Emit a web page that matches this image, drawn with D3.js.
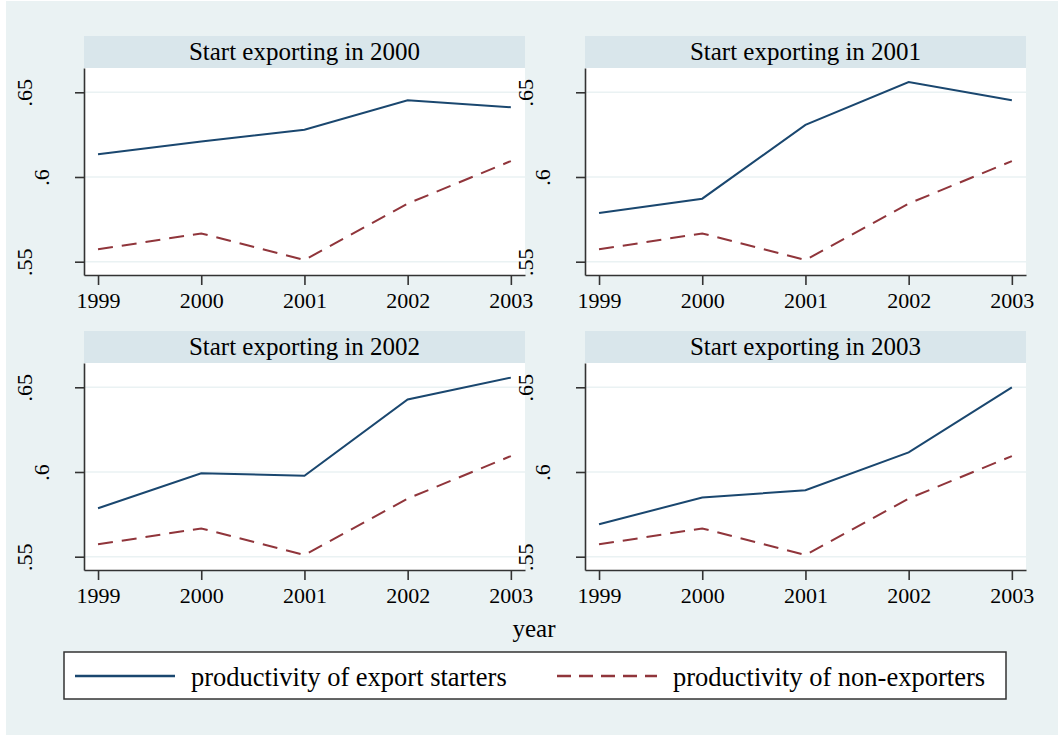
<!DOCTYPE html>
<html>
<head>
<meta charset="utf-8">
<script src="https://cdn.jsdelivr.net/npm/d3@7"></script>
<style>
  body { margin: 0; background: #ffffff; }
  svg { display: block; font-family: "Liberation Serif", "Times New Roman", serif; }
</style>
</head>
<body>
<svg id="chart"></svg>
<script>
// data
const years = [1999, 2000, 2001, 2002, 2003];
const panelTitles = ["Start exporting in 2000", "Start exporting in 2001", "Start exporting in 2002", "Start exporting in 2003"];
const nonExporters = [0.5573, 0.5667, 0.5510, 0.5843, 0.6094];
const starters2000 = [0.6134, 0.6210, 0.6279, 0.6453, 0.6412];
const starters2001 = [0.5788, 0.5872, 0.6308, 0.6561, 0.6453];
const starters2002 = [0.5786, 0.5992, 0.5978, 0.6428, 0.6557];
const starters2003 = [0.5692, 0.5849, 0.5892, 0.6116, 0.6500];
const yTicks = [0.55, 0.6, 0.65];
const yTickLabels = [".55", ".6", ".65"];
const seriesNames = ["productivity of export starters", "productivity of non-exporters"];
const xTitle = "year";

const starters = [starters2000, starters2001, starters2002, starters2003];

const width = 1058;
const height = 735;
const navy = "#1a476f";
const maroon = "#90353b";
const bg = "#eaf2f3";
const stripBg = "#d9e6eb";
const axisColor = "#333333";

const svg = d3.select("#chart")
    .attr("width", width)
    .attr("height", height);

// outer graph region
svg.append("rect")
    .attr("x", 6).attr("y", 1)
    .attr("width", width - 6).attr("height", height - 1)
    .attr("fill", bg);

//panel layout
const colLeft = [84, 585];
const rowTop = [36, 331];
const plotW = 441;
const stripH = 32;
const plotH = 207;

const x = d3.scaleLinear()
    .domain([1998.864, 2003.137])
    .range([0, plotW]);

const y = d3.scaleLinear()
    .domain([0.54215, 0.66434])
    .range([plotH, 0]);

const line = d3.line()
    .x((d, i) => x(years[i]))
    .y(d => y(d));

panelTitles.forEach((title, p) => {
    const left = colLeft[p % 2];
    const top = rowTop[Math.floor(p / 2)];

    //title strip
    svg.append("rect")
        .attr("x", left).attr("y", top)
        .attr("width", plotW).attr("height", stripH)
        .attr("fill", stripBg);

    svg.append("text")
        .attr("x", left + plotW / 2)
        .attr("y", top + 23.5)
        .attr("text-anchor", "middle")
        .style("font-size", "25px")
        .style("fill", "#000")
        .text(title);

    const g = svg.append("g")
        .attr("transform", `translate(${left},${top + stripH})`);

    g.append("rect")
        .attr("width", plotW).attr("height", plotH)
        .attr("fill", "#ffffff");

    //grid lines
    g.selectAll("line.grid")
        .data(yTicks)
        .join("line")
        .attr("class", "grid")
        .attr("x1", 0).attr("x2", plotW)
        .attr("y1", d => y(d)).attr("y2", d => y(d))
        .attr("stroke", bg)
        .attr("stroke-width", 1.5);

    //y axis
    const yAxis = g.append("g")
        .style("color", axisColor)
        .call(d3.axisLeft(y)
            .tickValues(yTicks)
            .tickSize(9)
            .tickSizeOuter(0)
            .tickFormat((d, i) => yTickLabels[i]));
    yAxis.select(".domain").attr("stroke-width", 1.6);
    yAxis.selectAll(".tick line").attr("stroke-width", 1.6);
    yAxis.selectAll(".tick text")
        .attr("x", null)
        .attr("dy", null)
        .attr("fill", "#000")
        .attr("text-anchor", "middle")
        .style("font-size", "22px")
        .style("font-family", "Liberation Serif")
        .attr("transform", function (d, i) {
            const off = 17 * yTickLabels[i].length + 1.5;
            return `translate(${-off},0) rotate(-90)`;
        });

    //x axis
    const xAxis = g.append("g")
        .attr("transform", `translate(0,${plotH})`)
        .style("color", axisColor)
        .call(d3.axisBottom(x)
            .tickValues(years)
            .tickSize(10)
            .tickSizeOuter(0)
            .tickFormat(d3.format("d")));
    xAxis.select(".domain").attr("stroke-width", 1.6);
    xAxis.selectAll(".tick line").attr("stroke-width", 1.6);
    xAxis.selectAll(".tick text")
        .attr("y", 33)
        .attr("dy", null)
        .attr("fill", "#000")
        .style("font-size", "22px")
        .style("font-family", "Liberation Serif");

    //series
    g.append("path")
        .datum(nonExporters)
        .attr("d", line)
        .attr("fill", "none")
        .attr("stroke", maroon)
        .attr("stroke-width", 2)
        .attr("stroke-dasharray", "15,9");

    g.append("path")
        .datum(starters[p])
        .attr("d", line)
        .attr("fill", "none")
        .attr("stroke", navy)
        .attr("stroke-width", 2);
});

//x title
svg.append("text")
    .attr("x", 534)
    .attr("y", 637)
    .attr("text-anchor", "middle")
    .style("font-size", "25px")
    .text(xTitle);

//legend
const legend = svg.append("g");
legend.append("rect")
    .attr("x", 64).attr("y", 652)
    .attr("width", 942).attr("height", 47)
    .attr("fill", "#ffffff")
    .attr("stroke", axisColor)
    .attr("stroke-width", 1.5);

const legendItems = [
    { name: seriesNames[0], color: navy, dash: null, x0: 75 },
    { name: seriesNames[1], color: maroon, dash: "14,8", x0: 557 }
];

legendItems.forEach(item => {
    legend.append("line")
        .attr("x1", item.x0).attr("x2", item.x0 + 100)
        .attr("y1", 676).attr("y2", 676)
        .attr("stroke", item.color)
        .attr("stroke-width", 2.5)
        .attr("stroke-dasharray", item.dash);
    legend.append("text")
        .attr("x", item.x0 + 116)
        .attr("y", 686)
        .style("font-size", "26.5px")
        .text(item.name);
});
</script>
</body>
</html>
